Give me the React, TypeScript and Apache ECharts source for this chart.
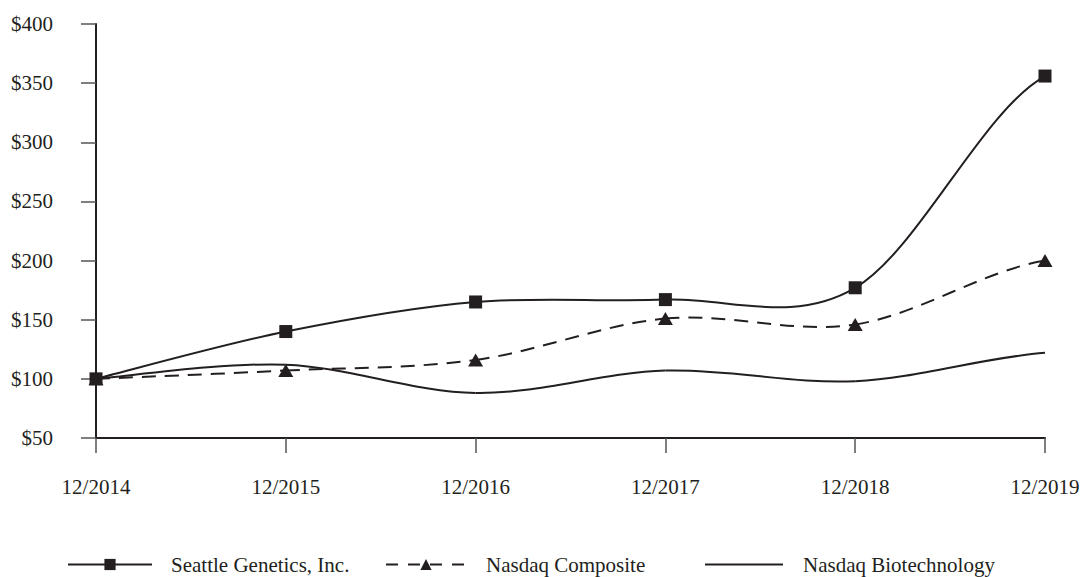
import React, { useEffect, useRef } from "react";
import * as echarts from "echarts";

const categories = ["12/2014", "12/2015", "12/2016", "12/2017", "12/2018", "12/2019"];
const seattleGenetics = [100, 140, 165, 167, 177, 356];
const nasdaqComposite = [100, 107, 116, 151, 146, 200];
const nasdaqBiotech = [100, 112, 88, 107, 98, 122];
const seriesNames = ["Seattle Genetics, Inc.", "Nasdaq Composite", "Nasdaq Biotechnology"];

const INK = "#231f20";
const FONT = "'Liberation Serif', 'Times New Roman', serif";

// Smoothed curve (cardinal spline) drawn segment by segment in pixel space via api.coord
function curveSeries(id: string, values: number[], dash: number[] | null, z: number) {
  return {
    id,
    name: id,
    type: "custom",
    data: values.map((v, i) => [i, v]),
    encode: { x: 0, y: 1 },
    z,
    silent: true,
    renderItem: (params: any, api: any) => {
      const i = params.dataIndex;
      const n = values.length;
      if (i >= n - 1) return { type: "group", children: [] };
      const pts = values.map((v, j) => api.coord([j, v]));
      const p1 = pts[i];
      const p2 = pts[i + 1];
      const p0 = i > 0 ? pts[i - 1] : p1;
      const p3 = i + 2 < n ? pts[i + 2] : [p2[0] + (p2[0] - p1[0]), p2[1]];
      const k = 1 / 6;
      return {
        type: "bezierCurve",
        shape: {
          x1: p1[0],
          y1: p1[1],
          x2: p2[0],
          y2: p2[1],
          cpx1: p1[0] + (p2[0] - p0[0]) * k,
          cpy1: p1[1] + (p2[1] - p0[1]) * k,
          cpx2: p2[0] - (p3[0] - p1[0]) * k,
          cpy2: p2[1] - (p3[1] - p1[1]) * k,
        },
        style: { stroke: INK, lineWidth: 2, fill: null, lineDash: dash || undefined },
      };
    },
  };
}

export default function App() {
  const ref = useRef<HTMLDivElement>(null);
  useEffect(() => {
    if (!ref.current) return;
    const chart = echarts.init(ref.current, undefined, { renderer: "svg" });
    const legendText = { fontFamily: FONT, fontSize: 21, color: INK };
    chart.setOption({
      animation: false,
      backgroundColor: "#ffffff",
      grid: { left: 96, right: 38, top: 24, bottom: 139, containLabel: false },
      legend: [
        {
          left: 62,
          top: 549,
          itemWidth: 84,
          itemHeight: 14,
          selectedMode: false,
          data: [seriesNames[0]],
          lineStyle: { color: INK, width: 2, opacity: 1, type: "solid" },
          textStyle: { ...legendText, padding: [0, 0, 0, 14] },
        },
        {
          left: 380,
          top: 549,
          itemWidth: 80,
          itemHeight: 14,
          selectedMode: false,
          data: [seriesNames[1]],
          lineStyle: { color: INK, width: 2, opacity: 1, type: [12, 10] },
          textStyle: { ...legendText, padding: [0, 0, 0, 15] },
        },
        {
          left: 700,
          top: 549,
          itemWidth: 78,
          itemHeight: 2,
          selectedMode: false,
          data: [{ name: seriesNames[2], icon: "rect" }],
          itemStyle: { color: INK },
          textStyle: { ...legendText, padding: [0, 0, 0, 15] },
        },
      ],
      xAxis: {
        type: "category",
        data: categories,
        boundaryGap: false,
        axisLine: { lineStyle: { color: INK, width: 2 } },
        axisTick: { show: true, length: 15, alignWithLabel: true, lineStyle: { color: "#555", width: 1.5 } },
        axisLabel: { margin: 38, fontFamily: FONT, fontSize: 21, color: INK },
        splitLine: { show: false },
      },
      yAxis: {
        type: "value",
        min: 50,
        max: 400,
        interval: 50,
        axisLine: { show: true, lineStyle: { color: INK, width: 2 } },
        axisTick: { show: true, length: 15, lineStyle: { color: "#555", width: 1.5 } },
        axisLabel: {
          margin: 43,
          fontFamily: FONT,
          fontSize: 21,
          color: INK,
          formatter: (v: number) => "$" + v,
        },
        splitLine: { show: false },
      },
      series: [
        curveSeries("curve-biotech", nasdaqBiotech, null, 2),
        curveSeries("curve-composite", nasdaqComposite, [14, 9], 3),
        curveSeries("curve-seattle", seattleGenetics, null, 4),
        {
          name: seriesNames[2],
          type: "line",
          data: nasdaqBiotech,
          symbol: "none",
          lineStyle: { color: INK, width: 2, opacity: 0 },
          itemStyle: { color: INK },
          z: 5,
        },
        {
          name: seriesNames[1],
          type: "line",
          data: nasdaqComposite,
          symbol: "triangle",
          symbolSize: [15, 13],
          showAllSymbol: true,
          lineStyle: { color: INK, width: 2, opacity: 0 },
          itemStyle: { color: INK },
          z: 6,
        },
        {
          name: seriesNames[0],
          type: "line",
          data: seattleGenetics,
          symbol: "rect",
          symbolSize: 13,
          showAllSymbol: true,
          lineStyle: { color: INK, width: 2, opacity: 0 },
          itemStyle: { color: INK },
          z: 7,
        },
      ],
    });
    return () => chart.dispose();
  }, []);
  return <div ref={ref} style={{ width: 1083, height: 577, position: "absolute", left: 0, top: 0 }} />;
}
